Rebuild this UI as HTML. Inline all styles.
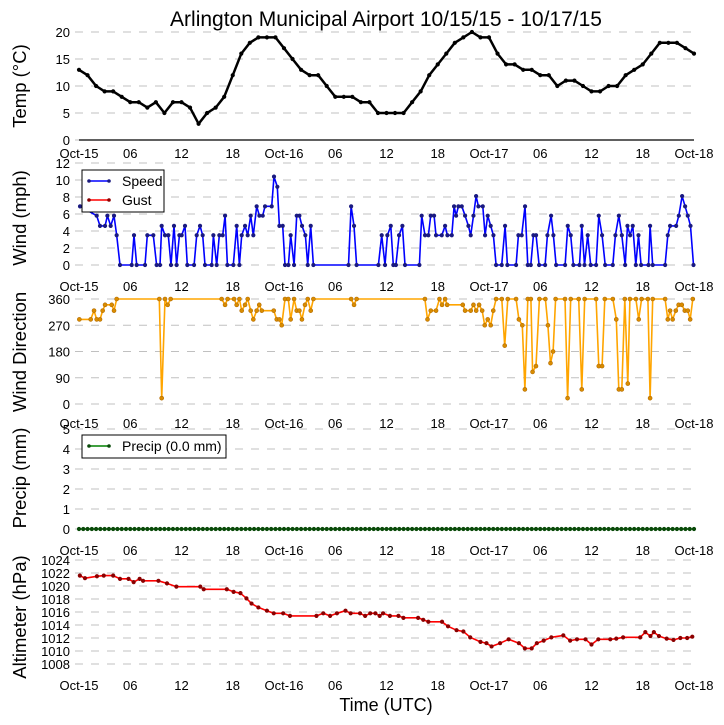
<!DOCTYPE html>
<html><head><meta charset="utf-8">
<style>
html,body{margin:0;padding:0;background:#fff;}
svg{display:block;font-family:"Liberation Sans","DejaVu Sans",sans-serif;}
</style></head>
<body>
<svg id="chart" width="724" height="725" viewBox="0 0 724 725" xmlns="http://www.w3.org/2000/svg">
<text x="386" y="26" font-size="21" text-anchor="middle">Arlington Municipal Airport 10/15/15 - 10/17/15</text>
<text x="386" y="711" font-size="18" text-anchor="middle">Time (UTC)</text>
</svg>
<script>
// ---- data ----
const xTickLabels = ["Oct-15","06","12","18","Oct-16","06","12","18","Oct-17","06","12","18","Oct-18"];
const tempHours = [0,1,2,3,4,5,6,7,8,9,10,11,12,13,14,15,16,17,18,19,20,21,22,23,24,25,26,27,28,29,30,31,32,33,34,35,36,37,38,39,40,41,42,43,44,45,46,47,48,49,50,51,52,53,54,55,56,57,58,59,60,61,62,63,64,65,66,67,68,69,70,71,72];
const tempValues = [13,12,10,9,9,8,7,7,6,7,5,7,7,6,3,5,6,8,12,16,18,19,19,19,17,15,13,12,12,10,8,8,8,7,7,5,5,5,5,7,9,12,14,16,18,19,20,19,19,16,14,14,13,13,12,12,10,11,11,10,9,9,10,10,12,13,14,16,18,18,18,17,16];
const windHours = [0.12,2.07,2.46,3.05,3.32,3.71,4.1,4.41,4.8,6.17,6.44,6.75,7.73,8.0,8.7,9.09,9.48,9.68,10.07,10.46,10.77,11.12,11.43,11.75,12.02,12.41,12.68,13.47,13.78,14.17,14.48,14.75,15.53,15.73,16.12,16.43,16.82,17.1,17.37,18.07,18.46,18.78,19.05,19.44,19.75,20.1,20.41,20.8,21.12,21.51,21.78,22.56,22.83,23.22,23.46,23.85,24.12,24.51,24.78,25.18,25.49,25.8,26.11,26.5,26.78,27.13,27.44,31.55,31.86,32.2,32.5,35.05,35.44,35.83,36.1,36.5,36.8,37.1,37.47,37.86,38.17,39.85,40.12,40.51,40.9,41.18,41.57,41.8,42.47,42.86,43.13,43.64,43.91,44.15,44.42,44.81,45.2,45.59,45.86,46.18,46.49,46.76,47.27,47.54,47.85,48.2,48.52,48.83,49.49,49.88,50.15,51.17,51.44,51.83,52.22,52.54,52.89,53.2,53.51,53.87,54.57,54.84,55.27,55.54,55.86,56.91,57.22,57.57,57.88,58.59,58.86,59.18,59.56,59.91,60.54,60.85,61.24,61.6,62.49,62.8,63.2,63.55,63.94,64.21,64.52,64.83,65.19,65.5,65.81,66.67,66.86,67.17,68.62,68.93,69.2,69.91,70.22,70.61,70.96,71.27,71.59,71.94];
const windSpeed = [6.9,5.8,4.6,4.6,5.8,4.6,5.8,3.5,0,0,3.5,0,0,3.5,3.5,0,0,4.6,3.5,3.5,0,4.6,0,3.5,3.5,4.6,0,0,3.5,4.6,3.5,0,0,3.5,0,3.5,3.5,5.8,0,0,4.6,0,3.5,4.6,3.5,5.8,3.5,6.9,5.8,5.8,6.9,6.9,10.4,9.2,4.6,4.6,0,0,3.5,0,5.8,5.8,4.6,3.5,0,4.6,0,0,6.9,4.6,0,0,3.5,0,3.5,4.6,0,0,3.5,4.6,0,0,5.8,3.5,3.5,5.8,5.8,3.5,3.5,4.6,3.5,3.5,6.9,5.8,6.9,6.9,5.8,4.6,3.5,5.8,8.1,6.9,6.9,3.5,5.8,4.6,3.5,0,0,4.6,0,0,3.5,3.5,6.9,0,0,3.5,3.5,0,0,3.5,5.8,3.5,0,0,4.6,3.5,0,0,4.6,0,3.5,0,0,5.8,3.5,0,0,3.5,5.8,3.5,0,4.6,3.5,4.6,0,3.5,0,0,4.6,0,0,3.5,4.6,4.6,5.8,8.1,6.9,5.8,4.6,0];
const dirHours = [0.04,1.37,1.76,2.07,2.46,2.77,3.05,3.83,4.1,4.41,9.4,9.68,10.07,10.38,10.73,16.7,17.1,17.4,18.15,18.46,18.78,19.05,19.44,19.75,20.1,20.41,20.8,21.1,21.4,22.8,23.15,23.46,23.73,24.12,24.5,24.78,25.18,25.49,25.8,26.1,26.46,26.78,27.13,27.44,31.86,32.2,32.5,40.5,40.8,41.18,41.8,42.2,42.5,42.86,43.1,44.93,45.2,45.86,46.18,46.5,46.84,47.2,47.5,47.85,48.2,48.5,48.83,49.5,49.84,50.2,51.17,51.5,51.9,52.2,52.54,52.9,53.1,53.5,53.9,54.6,54.9,55.2,55.5,55.8,56.9,57.2,57.57,58.5,58.86,59.2,60.54,60.85,61.24,61.56,62.5,62.9,63.2,63.55,63.9,64.25,64.5,65.2,65.53,65.87,66.6,66.86,67.17,68.62,68.93,69.2,69.5,69.87,70.2,70.57,70.92,71.27,71.55,71.86];
const dirValues = [290,290,320,290,290,320,340,340,320,360,360,20,360,340,360,360,340,360,360,340,360,320,340,360,320,290,320,340,320,320,290,290,270,360,360,290,360,320,320,290,340,360,320,360,360,340,360,360,290,320,320,360,340,360,340,340,320,320,340,320,340,320,270,290,270,320,360,360,200,360,360,290,270,50,360,360,110,130,360,360,270,140,180,360,360,20,360,360,50,360,360,130,130,360,360,290,50,50,360,70,360,360,290,360,360,20,360,360,290,320,290,320,340,340,320,320,290,360];
const precipHours = Array.from({length:145},(_,i)=>i*0.5);
const precipValues = precipHours.map(()=>0);
const altHours = [0.1,0.7,2.1,2.9,4.0,4.8,5.8,6.4,7.1,7.5,9.3,10.3,11.4,14.2,14.6,17.3,18.1,18.9,19.6,20.2,21,22,22.8,23.9,24.7,27.8,28.6,29.4,30.2,31.2,31.8,32.9,33.5,34.1,34.7,35.2,35.6,36.4,37.4,37.98,39.7,40.3,40.9,42.5,43.2,44.2,45,45.8,47,47.7,48.3,49.3,50.3,51.5,52.2,53,53.6,54.4,55.3,56.7,57.5,58.3,59.3,60,60.8,62.2,62.9,63.7,65.7,66.3,66.9,67.3,67.9,68.8,69.6,70.4,71.2,71.8];
const altValues = [1021.6,1021.2,1021.5,1021.6,1021.6,1021.1,1021.1,1020.6,1021.1,1020.8,1020.8,1020.4,1019.9,1019.9,1019.5,1019.5,1019.1,1018.9,1018.1,1017.3,1016.7,1016.2,1015.8,1015.8,1015.4,1015.4,1015.8,1015.4,1015.8,1016.2,1015.8,1015.8,1015.4,1015.8,1015.8,1015.4,1015.8,1015.4,1015.4,1015.1,1015.1,1014.8,1014.5,1014.5,1013.8,1013.2,1013.0,1012.1,1011.4,1011.2,1010.7,1011.2,1011.8,1011.2,1010.4,1010.4,1011.2,1011.6,1012.1,1012.4,1011.6,1011.8,1011.8,1011.0,1011.8,1011.8,1011.9,1012.1,1012.1,1012.9,1012.3,1012.9,1012.3,1011.9,1011.7,1012.0,1012.0,1012.2];

// ---- rendering ----
const svg = document.getElementById('chart');
const NS = 'http://www.w3.org/2000/svg';
const X0 = 79, X1 = 694, HMAX = 72;
function xs(h){ return X0 + (h / HMAX) * (X1 - X0); }
function mk(tag, attrs){ const e = document.createElementNS(NS, tag); for (const k in attrs) e.setAttribute(k, attrs[k]); svg.appendChild(e); return e; }

const panels = [
  {key:'temp', top:32, bottom:140, min:0, max:20, ticks:[0,5,10,15,20], label:'Temp (\u00b0C)', labelY:86, xlabY:158, hrs:tempHours, vals:tempValues, color:'#000000', mcol:'#000000', lw:2.5, r:1.8, axisLine:true},
  {key:'wind', top:163, bottom:265, min:0, max:12, ticks:[0,2,4,6,8,10,12], label:'Wind (mph)', labelY:218, xlabY:291, hrs:windHours, vals:windSpeed, color:'#0000ff', mcol:'#1a1a80', lw:1.6, r:1.8},
  {key:'direction', top:299, bottom:404, min:0, max:360, ticks:[0,90,180,270,360], label:'Wind Direction', labelY:352, xlabY:428, hrs:dirHours, vals:dirValues, color:'#ffa500', mcol:'#b36b00', lw:1.6, r:2},
  {key:'precip', top:429, bottom:529, min:0, max:5, ticks:[0,1,2,3,4,5], label:'Precip (mm)', labelY:478, xlabY:555, hrs:precipHours, vals:precipValues, color:'#008000', mcol:'#0a4a0a', lw:1.6, r:1.8},
  {key:'altimeter', top:560, bottom:664, min:1008, max:1024, ticks:[1008,1010,1012,1014,1016,1018,1020,1022,1024], label:'Altimeter (hPa)', labelY:617, xlabY:690, hrs:altHours, vals:altValues, color:'#ff0000', mcol:'#8b0000', lw:1.6, r:1.8}
];

panels.forEach(p => {
  const ys = v => p.bottom - (v - p.min) / (p.max - p.min) * (p.bottom - p.top);
  p.ticks.forEach(t => {
    const g = mk('line', {x1:75, x2:X1, y1:ys(t), y2:ys(t), stroke:'#c0c0c0', 'stroke-width':1, 'stroke-dasharray':'8,8'});
    
    
    const tl = mk('text', {x:70, y:ys(t)+5, 'font-size':13, 'text-anchor':'end'});
    tl.textContent = t;
    
    
  });
  if (p.axisLine) {
    const al = mk('line', {x1:X0, x2:X1, y1:p.bottom, y2:p.bottom, stroke:'#000', 'stroke-width':1.2});
    
    
  }
  xTickLabels.forEach((lab, i) => {
    const t = mk('text', {x:xs(i*6), y:p.xlabY, 'font-size':13, 'text-anchor':'middle'});
    t.textContent = lab;
    
    
  });
  const yl = mk('text', {x:0, y:0, 'font-size':18.5, 'text-anchor':'middle', transform:'translate(26,' + p.labelY + ') rotate(-90)'});
  yl.textContent = p.label;
  
  
  const pts = p.hrs.map((h, i) => xs(h).toFixed(1) + ',' + ys(p.vals[i]).toFixed(1)).join(' ');
  const line = mk('polyline', {points:pts, fill:'none', stroke:p.color, 'stroke-width':p.lw, 'stroke-linejoin':'round'});
  
  
  p.hrs.forEach((h, i) => {
    const c = mk('circle', {cx:xs(h), cy:ys(p.vals[i]), r:p.r, fill:p.key==='direction'?'#d98c00':p.mcol, stroke:p.mcol, 'stroke-width':0.6});
    
    
  });
});

// legends
function legend(name, x, y, w, entries){
  const box = mk('rect', {x:x, y:y, width:w, height:entries.length*19+4, fill:'#fff', stroke:'#000', 'stroke-width':1});
  
  
  entries.forEach((e, i) => {
    const cy = y + 11 + i*19;
    const l = mk('line', {x1:x+7, x2:x+27, y1:cy, y2:cy, stroke:e.c, 'stroke-width':1.6});
    
    
    [x+7, x+27].forEach(cx => {
      const d = mk('circle', {cx:cx, cy:cy, r:1.8, fill:e.m});
      
      
    });
    const t = mk('text', {x:x+40, y:cy+5, 'font-size':14});
    t.textContent = e.t;
    
    
  });
}
legend('wind-legend', 82, 170, 82, [{t:'Speed', c:'#0000ff', m:'#1a1a80'}, {t:'Gust', c:'#ff0000', m:'#8b0000'}]);
legend('precip-legend', 82, 435, 144, [{t:'Precip (0.0 mm)', c:'#008000', m:'#0a4a0a'}]);
</script>
</body></html>
